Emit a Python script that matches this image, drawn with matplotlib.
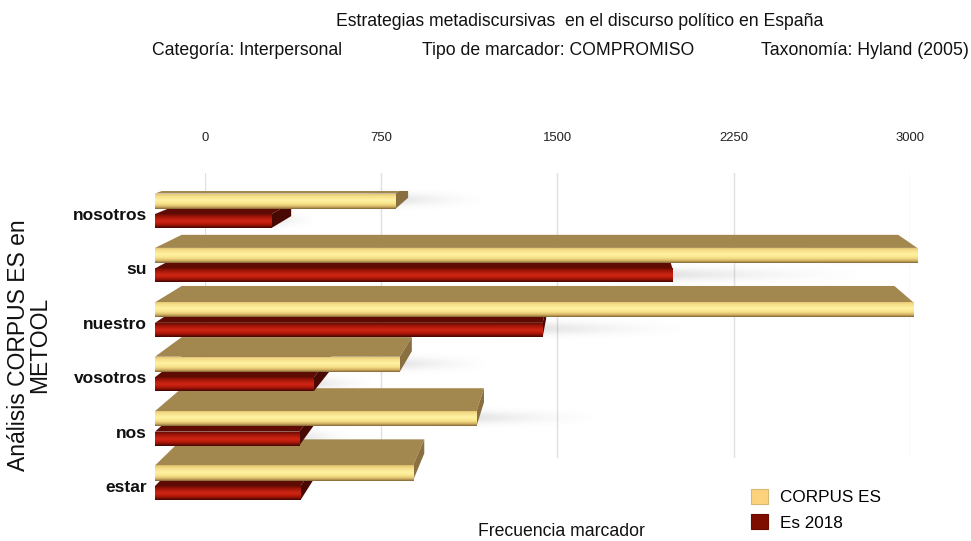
import numpy as np
import matplotlib
matplotlib.use("Agg")
import matplotlib.pyplot as plt
from matplotlib import font_manager
from matplotlib.patches import Polygon, Patch
from matplotlib.colors import LinearSegmentedColormap

# ---- data -------------------------------------------------------------
categories = ["nosotros", "su", "nuestro", "vosotros", "nos", "estar"]
corpus_es = [910, 2880, 2865, 925, 1215, 975]
es_2018 = [440, 1955, 1465, 600, 545, 550]
series_labels = ["CORPUS ES", "Es 2018"]
x_ticks = [0, 750, 1500, 2250, 3000]

title = "Estrategias metadiscursivas  en el discurso político en España"
subtitles = ["Categoría: Interpersonal", "Tipo de marcador: COMPROMISO",
             "Taxonomía: Hyland (2005)"]
x_title = "Frecuencia marcador"
y_title = "Análisis CORPUS ES en\nMETOOL"

# ---- fonts ------------------------------------------------------------
available = {f.name for f in font_manager.fontManager.ttflist}
if "Liberation Sans Narrow" in available:
    NARROW, WSCALE = "Liberation Sans Narrow", 1.0
else:
    NARROW, WSCALE = "Liberation Sans", 0.82
plt.rcParams["font.family"] = [NARROW, "DejaVu Sans"]


def fs(pt):
    return pt * WSCALE


# ---- figure & perspective frame ---------------------------------------
W, H, DPI = 971, 541, 100
fig = plt.figure(figsize=(W / DPI, H / DPI), dpi=DPI)
fig.patch.set_facecolor("white")

VP = np.array([600.0, H - 30.0])      # vanishing point (display px)
K_BAR, K_WALL = 0.06, 0.112           # relative depth of bar backs / back wall


def recede(pts, k):
    pts = np.asarray(pts, float)
    return VP + (pts - VP) * (1 - k)


# front plane of the bars (display px)
F_LEFT, F_RIGHT, F_TOP, F_BOTTOM = 155, 949, H - 191, H - 512
(wl, wt), (wr, wb) = recede([[F_LEFT, F_TOP], [F_RIGHT, F_BOTTOM]], K_WALL)

# back wall with grid and value labels
ax_wall = fig.add_axes([wl / W, wb / H, (wr - wl) / W, (wt - wb) / H])
ax_wall.set_xlim(0, 3000)
ax_wall.set_ylim(0, 1)
ax_wall.set_xticks(x_ticks)
ax_wall.set_xticklabels([str(v) for v in x_ticks])
ax_wall.set_yticks([])
ax_wall.xaxis.tick_top()
ax_wall.tick_params(axis="x", length=0, pad=21, labelsize=fs(11.5), labelcolor="#222222")
ax_wall.grid(axis="x", color="#e0e0e0", lw=1.0)
for s in ax_wall.spines.values():
    s.set_visible(False)
ax_wall.set_zorder(0)

# front axes holding the bars
ax = fig.add_axes([F_LEFT / W, F_BOTTOM / H, (F_RIGHT - F_LEFT) / W, (F_TOP - F_BOTTOM) / H])
ax.set_zorder(1)
ax.patch.set_alpha(0)
for s in ax.spines.values():
    s.set_visible(False)
XLIM = (0, 3000)
YLIM = (5.478, -0.423)
ax.set_xlim(*XLIM)
ax.set_ylim(*YLIM)

rows = np.arange(len(categories))
TAN_OFF, TAN_H = -0.239, 0.276
RED_OFF, RED_H = 0.129, 0.257

tan_cmap = LinearSegmentedColormap.from_list(
    "tan", [(0.0, "#d9b96a"), (0.15, "#f3da84"), (0.45, "#fff3a2"),
            (0.68, "#f8e28a"), (0.86, "#d6b464"), (1.0, "#7e6232")])
red_cmap = LinearSegmentedColormap.from_list(
    "red", [(0.0, "#6a0c04"), (0.2, "#a31608"), (0.5, "#d02614"),
            (0.7, "#b81a0a"), (0.88, "#7c0e05"), (1.0, "#3a0502")])

bars_tan = ax.barh(rows + TAN_OFF, corpus_es, height=TAN_H, color="#f3da84", lw=0)
bars_red = ax.barh(rows + RED_OFF, es_2018, height=RED_H, color="#b81a0a", lw=0)

grad = np.linspace(0, 1, 64)[:, None]

# soft wall shadow: fades out to the right, gaussian across
_sx = np.linspace(0, 1, 160)
_sy = np.linspace(-1, 1, 48)
shadow_rgba = np.zeros((48, 160, 4))
shadow_rgba[..., :3] = 0.42
shadow_rgba[..., 3] = (0.30 * np.exp(-(_sy[:, None] / 0.42) ** 2)
                       * np.clip(_sx[None, :] / 0.15, 0, 1) * (1 - _sx[None, :]) ** 1.6)


def dress(bar, cmap, top_col, end_col, z):
    x0, y0 = bar.get_x(), bar.get_y()
    w, h = bar.get_width(), bar.get_height()
    td = ax.transData
    inv = td.inverted()
    ftl, ftr, fbr = td.transform([[x0, y0], [x0 + w, y0], [x0 + w, y0 + h]])
    btl, btr, bbr = recede([ftl, ftr, fbr], K_BAR)
    ax.add_patch(Polygon(inv.transform([ftl, ftr, btr, btl]), closed=True,
                         fc=top_col, ec="none", zorder=z + 1))
    if btr[0] > ftr[0]:
        ax.add_patch(Polygon(inv.transform([ftr, btr, bbr, fbr]), closed=True,
                             fc=end_col, ec="none", zorder=z + 1))
    bar.set_zorder(z + 2)
    im = ax.imshow(grad, cmap=cmap, aspect="auto", interpolation="bicubic",
                   extent=(x0, x0 + w, y0 + h, y0), zorder=z + 3)
    im.set_clip_path(bar)
    # shadow streak thrown onto the back wall beyond the bar end
    yc = y0 + h * 0.45
    sh = ax.imshow(shadow_rgba, aspect="auto", interpolation="bilinear",
                   extent=(x0 + w * 0.85, x0 + w * 1.4, yc + 0.26, yc - 0.26), zorder=2)
    sh.set_clip_path(ax_wall.patch)


# draw from the lowest row upwards so upper bars sit in front of lower top faces
for i in rows[::-1]:
    z = 10 + (len(rows) - 1 - i) * 10
    dress(bars_red[i], red_cmap, "#5e0b04", "#4a0803", z)
    dress(bars_tan[i], tan_cmap, "#a2884f", "#8a7040", z + 5)

ax.set_xlim(*XLIM)
ax.set_ylim(*YLIM)
ax.set_xticks([])
ax.set_yticks(rows)
ax.set_yticklabels(categories, fontweight="bold", fontsize=fs(15.3), color="#111111")
ax.tick_params(axis="y", length=0, pad=5.8)

# ---- texts ------------------------------------------------------------
fig.text(580 / W, 1 - 22 / H, title, ha="center", va="center", fontsize=fs(15.5), color="#111111")
fig.text(152 / W, 1 - 50 / H, subtitles[0], ha="left", va="center", fontsize=fs(15.5), color="#111111")
fig.text(422 / W, 1 - 50 / H, subtitles[1], ha="left", va="center", fontsize=fs(15.5), color="#111111")
fig.text(969 / W, 1 - 50 / H, subtitles[2], ha="right", va="center", fontsize=fs(15.5), color="#111111")
fig.text(561 / W, 1 - 531 / H, x_title, ha="center", va="center", fontsize=fs(15.5), color="#111111")
fig.text(29 / W, 1 - 345 / H, y_title, rotation=90, ha="center", va="center",
         fontsize=16.5, family=["Liberation Sans", "DejaVu Sans"], linespacing=0.9,
         multialignment="center", color="#111111")

# ---- legend -----------------------------------------------------------
handles = [Patch(fc="#fdd27c", ec="#d8b870", lw=0.8), Patch(fc="#7e0f00", ec="#6a0c00", lw=0.8)]
fig.legend(handles, series_labels, loc="upper left", bbox_to_anchor=(751 / W, 1 - 489 / H),
           frameon=False, fontsize=fs(15), handlelength=1.0, handleheight=1.0,
           handletextpad=0.7, labelspacing=0.5, borderaxespad=0, borderpad=0)

fig.savefig("out.png", dpi=DPI, facecolor="white")
